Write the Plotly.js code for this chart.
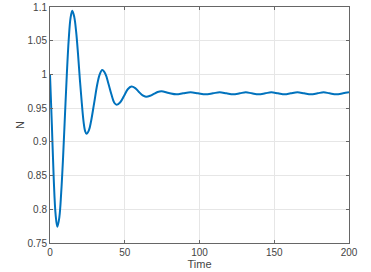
<!DOCTYPE html>
<html>
<head>
<meta charset="utf-8">
<script src="https://cdn.plot.ly/plotly-3.0.1.min.js"></script>
<style>html,body{margin:0;padding:0;background:#fff;}#chart{width:371px;height:272px;}</style>
</head>
<body>
<div id="chart"></div>
<script>
// Time samples
var time = [0, 1.25, 2.5, 3.75, 4.9, 6.25, 7.5, 8.75, 10, 11.25, 12.5, 13.75, 14.9,
  16.25, 17.5, 18.75, 20, 21.25, 22.5, 23.5, 24.4, 26, 27.5, 29.5, 31.5, 33.25, 34.9,
  37, 39, 41, 43, 44.6, 47, 49.5, 52, 54.5, 57, 59.5, 62, 64.2, 67, 69.5, 72, 74.5,
  79.5, 84.5, 89, 94, 99, 104, 109, 113.5, 118, 122.5, 127, 131, 135, 139.5, 144, 148,
  152.5, 157, 161, 165.5, 170, 174.5, 179, 183, 187, 191.5, 196, 200];
// N values
var nValues = [1.0, 0.925, 0.845, 0.792, 0.774, 0.788, 0.825, 0.877, 0.939, 1.0, 1.051, 1.084, 1.0945,
  1.085, 1.063, 1.030, 0.992, 0.958, 0.929, 0.916, 0.912, 0.917, 0.931, 0.957, 0.984, 1.0, 1.0065,
  1.001, 0.987, 0.971, 0.958, 0.955, 0.9587, 0.968, 0.978, 0.982, 0.9797, 0.974, 0.969, 0.967, 0.9684, 0.9712, 0.9739, 0.975,
  0.9725, 0.9705, 0.972, 0.9735, 0.972, 0.9705, 0.972, 0.9735, 0.972, 0.9705, 0.972, 0.9735,
  0.972, 0.9705, 0.972, 0.9735, 0.972, 0.9705, 0.972, 0.9735, 0.972, 0.9705, 0.972, 0.9735,
  0.972, 0.9705, 0.972, 0.9735];
var xTicks = [0, 50, 100, 150, 200];
var yTicks = [0.75, 0.8, 0.85, 0.9, 0.95, 1, 1.05, 1.1];
var yTickText = ['0.75', '0.8', '0.85', '0.9', '0.95', '1', '1.05', '1.1'];

var trace = {
  x: time, y: nValues, type: 'scatter', mode: 'lines',
  line: {color: '#0072BD', width: 2, shape: 'spline', smoothing: 1},
  hoverinfo: 'skip'
};
var fontFam = 'Liberation Sans, Arial, sans-serif';
var axisCommon = {
  showline: true, linecolor: '#666', linewidth: 1, mirror: 'ticks',
  ticks: 'inside', ticklen: 3, tickcolor: '#666', tickwidth: 1,
  showgrid: true, gridcolor: '#e6e6e6', gridwidth: 1, zeroline: false,
  tickfont: {family: fontFam, size: 10, color: '#444'},
  automargin: false
};
var layout = {
  width: 371, height: 272,
  margin: {l: 50, r: 21.5, t: 7, b: 29, pad: 0},
  paper_bgcolor: '#fff', plot_bgcolor: '#fff',
  showlegend: false,
  xaxis: Object.assign({}, axisCommon, {
    range: [0, 200], tickvals: xTicks, ticktext: xTicks.map(String),
    title: {text: 'Time', font: {family: fontFam, size: 11, color: '#444'}, standoff: 2}
  }),
  yaxis: Object.assign({}, axisCommon, {
    range: [0.75, 1.1], tickvals: yTicks, ticktext: yTickText,
    title: {text: 'N', font: {family: fontFam, size: 11, color: '#444'}, standoff: 0}
  })
};
Plotly.newPlot('chart', [trace], layout, {staticPlot: true, displayModeBar: false});
</script>
</body>
</html>
